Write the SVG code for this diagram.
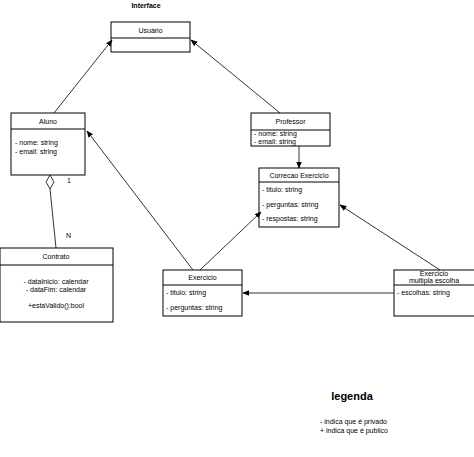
<svg xmlns="http://www.w3.org/2000/svg" width="474" height="457" viewBox="0 0 474 457">
<defs>
<style>
.box{fill:#fff;stroke:#000;stroke-width:1}
.sep{stroke:#000;stroke-width:1}
text{font-family:"Liberation Sans",Arial,sans-serif;font-size:7px;fill:#000}
.c{text-anchor:middle}
.con{stroke:#000;stroke-width:0.8;fill:none}
.big{font-size:11px;font-weight:bold}
</style>
<marker id="ah" viewBox="0 0 10 10" refX="9" refY="5" markerWidth="7" markerHeight="7" orient="auto" markerUnits="userSpaceOnUse">
<path d="M0,1 L10,5 L0,9 Z" fill="#000"/>
</marker>
</defs>
<rect width="474" height="457" fill="#fff"/>
<text x="146" y="8" class="c" font-weight="bold">Interface</text>
<g id="usuario">
<rect class="box" x="111" y="22" width="79" height="30"/>
<line class="sep" x1="111" y1="38" x2="190" y2="38"/>
<text x="150.5" y="33" class="c">Usuário</text>
</g>
<g id="aluno">
<rect class="box" x="11" y="113" width="74" height="62"/>
<line class="sep" x1="11" y1="129" x2="85" y2="129"/>
<text x="48" y="124" class="c">Aluno</text>
<text x="15" y="145">- nome: string</text>
<text x="15" y="154">- email: string</text>
</g>
<g id="professor">
<rect class="box" x="251" y="113" width="79" height="33"/>
<line class="sep" x1="251" y1="130" x2="330" y2="130"/>
<text x="290.5" y="124" class="c">Professor</text>
<text x="254" y="136">- nome: string</text>
<text x="254" y="144">- email: string</text>
</g>
<g id="correcao">
<rect class="box" x="259" y="168" width="80" height="59"/>
<line class="sep" x1="259" y1="182" x2="339" y2="182"/>
<text x="299" y="178" class="c">Correcao Exercicio</text>
<text x="262" y="192">- titulo: string</text>
<text x="262" y="207">- perguntas: string</text>
<text x="262" y="221">- respostas: string</text>
</g>
<g id="contrato">
<rect class="box" x="0" y="248" width="113" height="74"/>
<line class="sep" x1="0" y1="265" x2="113" y2="265"/>
<text x="56" y="259" class="c">Contrato</text>
<text x="56" y="284" class="c">- dataInicio: calendar</text>
<text x="56" y="292" class="c">- dataFim: calendar</text>
<text x="56" y="308" class="c">+estaValido():bool</text>
</g>
<g id="exercicio">
<rect class="box" x="163" y="270" width="79" height="46"/>
<line class="sep" x1="163" y1="285" x2="242" y2="285"/>
<text x="202.5" y="280" class="c">Exercicio</text>
<text x="166" y="295">- titulo: string</text>
<text x="166" y="310">- perguntas: string</text>
</g>
<g id="multipla">
<rect class="box" x="394" y="270" width="81" height="46"/>
<line class="sep" x1="394" y1="285" x2="475" y2="285"/>
<text x="434" y="276" class="c">Exercicio</text>
<text x="434" y="283" class="c">multipla escolha</text>
<text x="397" y="295">- escolhas: string</text>
</g>
<g id="connectors">
<line class="con" x1="54" y1="113" x2="112" y2="40" marker-end="url(#ah)"/>
<line class="con" x1="280" y1="113" x2="191" y2="40" marker-end="url(#ah)"/>
<line class="con" x1="299" y1="146" x2="299" y2="168" marker-end="url(#ah)"/>
<line class="con" x1="193" y1="270" x2="87" y2="131" marker-end="url(#ah)"/>
<line class="con" x1="200" y1="270" x2="261" y2="212" marker-end="url(#ah)"/>
<line class="con" x1="440" y1="270" x2="340" y2="205" marker-end="url(#ah)"/>
<line class="con" x1="394" y1="293" x2="243" y2="293" marker-end="url(#ah)"/>
<path d="M50,175 L54,182 L50,189 L46,182 Z" fill="#fff" stroke="#000" stroke-width="0.8"/>
<line class="con" x1="50" y1="189" x2="56" y2="248"/>
<text x="67" y="183">1</text>
<text x="66" y="238">N</text>
</g>
<g id="legenda">
<text x="352" y="400" class="c big">legenda</text>
<text x="320" y="424">- indica que é privado</text>
<text x="320" y="433">+ indica que é publico</text>
</g>
</svg>
